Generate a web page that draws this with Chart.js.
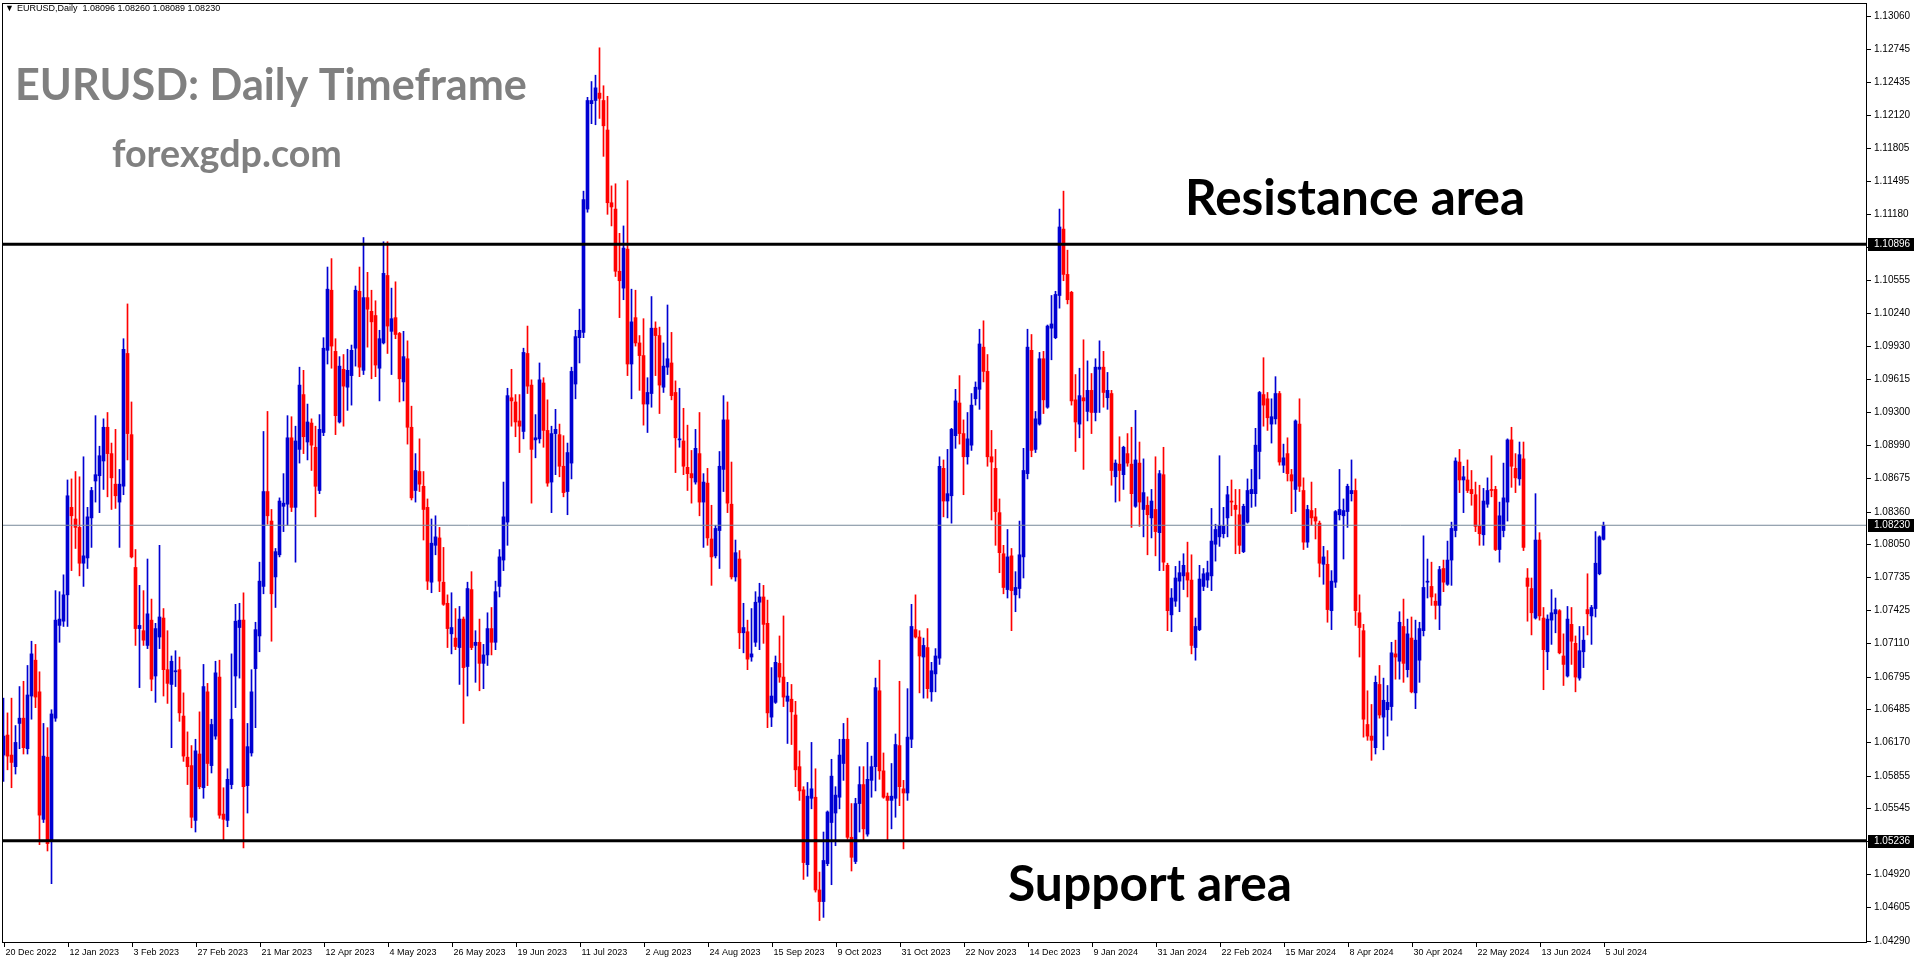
<!DOCTYPE html>
<html>
<head>
<meta charset="utf-8">
<script src="https://cdn.jsdelivr.net/npm/chart.js@4.4.1/dist/chart.umd.min.js"></script>
<style>
  html, body { margin: 0; padding: 0; background: #fff; overflow: hidden; }
  canvas { display: block; }
</style>
</head>
<body>
<canvas id="chart" width="1916" height="964"></canvas>
<script>
// EURUSD daily candles, 20 Dec 2022 .. 5 Jul 2024
const opens = [
  1.0605,1.0624,1.0605,1.0594,1.0635,1.0640,1.0611,1.0661,1.0695,1.0665,
  1.0544,1.0603,1.0524,1.0640,1.0728,1.0732,1.0757,1.0840,1.0829,1.0821,
  1.0787,1.0792,1.0830,1.0865,1.0870,1.0884,1.0916,1.0891,1.0862,1.0845,
  1.0860,1.0986,1.0909,1.0783,1.0725,1.0723,1.0709,1.0733,1.0680,1.0717,
  1.0735,1.0686,1.0672,1.0684,1.0686,1.0642,1.0603,1.0595,1.0543,1.0606,
  1.0574,1.0665,1.0595,1.0623,1.0679,1.0549,1.0543,1.0577,1.0680,1.0726,
  1.0733,1.0576,1.0607,1.0687,1.0718,1.0765,1.0855,1.0827,1.0774,1.0795,
  1.0841,1.0843,1.0906,1.0840,1.0895,1.0947,1.0902,1.0920,1.0897,1.0856,
  1.0911,1.0989,1.1046,1.0988,1.0921,1.0971,1.0954,1.0965,1.0991,1.1045,
  1.0970,1.1039,1.1026,1.1022,1.0972,1.0996,1.1060,1.1007,1.1020,1.1005,
  1.0959,1.0981,1.0916,1.0856,1.0874,1.0860,1.0840,1.0769,1.0804,1.0811,
  1.0769,1.0749,1.0720,1.0716,1.0707,1.0734,1.0689,1.0762,1.0709,1.0712,
  1.0692,1.0700,1.0725,1.0712,1.0765,1.0790,1.0826,1.0944,1.0940,1.0922,
  1.0912,1.0986,1.0956,1.0904,1.0905,1.0958,1.0913,1.0864,1.0910,1.0909,
  1.0879,1.0855,1.0882,1.0957,1.1001,1.1006,1.1123,1.1223,1.1226,1.1233,
  1.1226,1.1198,1.1129,1.1123,1.1064,1.1048,1.1085,1.0976,1.1020,1.0996,
  1.0984,1.0938,1.0948,1.1010,1.1003,1.0954,1.0973,1.0977,1.0949,1.0904,
  1.0903,1.0878,1.0872,1.0864,1.0891,1.0845,1.0863,1.0810,1.0794,1.0818,
  1.0876,1.0923,1.0843,1.0774,1.0791,1.0721,1.0722,1.0698,1.0712,1.0750,
  1.0755,1.0730,1.0641,1.0655,1.0692,1.0679,1.0656,1.0658,1.0643,1.0594,
  1.0572,1.0501,1.0564,1.0565,1.0477,1.0466,1.0502,1.0541,1.0550,1.0565,
  1.0597,1.0620,1.0527,1.0504,1.0559,1.0577,1.0530,1.0581,1.0594,1.0666,
  1.0590,1.0566,1.0562,1.0564,1.0614,1.0573,1.0569,1.0620,1.0724,1.0717,
  1.0698,1.0707,1.0665,1.0682,1.0697,1.0877,1.0846,1.0851,1.0908,1.0939,
  1.0910,1.0888,1.0899,1.0943,1.0952,1.0992,1.0969,1.0888,1.0877,1.0835,
  1.0796,1.0762,1.0794,1.0757,1.0763,1.0793,1.0872,1.0989,1.0895,1.0919,
  1.0981,1.0935,1.1010,1.1001,1.1041,1.1104,1.1061,1.1044,1.0942,1.0919,
  1.0944,1.0931,1.0951,1.0930,1.0971,1.0973,1.0944,1.0948,1.0869,1.0881,
  1.0871,1.0891,1.0881,1.0841,1.0882,1.0838,1.0842,1.0830,1.0838,1.0816,
  1.0871,1.0785,1.0738,1.0751,1.0770,1.0775,1.0778,1.0771,1.0707,1.0724,
  1.0765,1.0771,1.0775,1.0805,1.0812,1.0815,1.0830,1.0846,1.0842,1.0833,
  1.0798,1.0826,1.0853,1.0853,1.0893,1.0947,1.0943,1.0919,1.0924,1.0948,
  1.0880,1.0891,1.0871,1.0857,1.0919,1.0856,1.0807,1.0837,1.0831,1.0825,
  1.0786,1.0786,1.0742,1.0769,1.0833,1.0832,1.0836,1.0853,1.0856,1.0740,
  1.0723,1.0634,1.0623,1.0612,1.0672,1.0641,1.0648,1.0651,1.0701,1.0694,
  1.0727,1.0686,1.0716,1.0664,1.0695,1.0723,1.0769,1.0765,1.0751,1.0747,
  1.0782,1.0767,1.0790,1.0818,1.0883,1.0866,1.0866,1.0857,1.0852,1.0822,
  1.0814,1.0843,1.0857,1.0857,1.0800,1.0818,1.0845,1.0904,1.0877,1.0867,
  1.0886,1.0773,1.0763,1.0735,1.0809,1.0735,1.0703,1.0733,1.0739,1.0742,
  1.0699,1.0680,1.0729,1.0711,1.0678,1.0703,1.0743,1.0737,1.0744,1.0777,
  1.08096
];
const highs = [
  1.0659,1.0645,1.0659,1.0633,1.0670,1.0675,1.0690,1.0713,1.0710,1.0684,
  1.0635,1.0631,1.0648,1.0761,1.0760,1.0776,1.0866,1.0867,1.0874,1.0869,
  1.0888,1.0840,1.0859,1.0927,1.0898,1.0924,1.0930,1.0901,1.0914,1.0876,
  1.1000,1.1033,1.0940,1.0800,1.0766,1.0761,1.0791,1.0753,1.0730,1.0804,
  1.0744,1.0723,1.0699,1.0704,1.0698,1.0664,1.0627,1.0614,1.0620,1.0646,
  1.0691,1.0673,1.0639,1.0694,1.0695,1.0574,1.0592,1.0701,1.0748,1.0749,
  1.0759,1.0635,1.0686,1.0731,1.0788,1.0912,1.0931,1.0838,1.0801,1.0849,
  1.0872,1.0927,1.0926,1.0917,1.0973,1.0970,1.0938,1.0924,1.0917,1.0928,
  1.1001,1.1068,1.1076,1.1000,1.0983,1.0985,1.0990,1.0994,1.1050,1.1068,
  1.1096,1.1063,1.1046,1.1036,1.1008,1.1092,1.1092,1.1048,1.1054,1.1006,
  1.1007,1.0998,1.0936,1.0891,1.0905,1.0874,1.0848,1.0829,1.0832,1.0821,
  1.0802,1.0757,1.0759,1.0744,1.0746,1.0736,1.0769,1.0779,1.0723,1.0734,
  1.0710,1.0740,1.0745,1.0770,1.0800,1.0864,1.0953,1.0971,1.0947,1.0947,
  1.0991,1.1012,1.0961,1.0928,1.0977,1.0963,1.0942,1.0917,1.0933,1.0919,
  1.0908,1.0901,1.0973,1.1008,1.1028,1.1140,1.1229,1.1244,1.1250,1.1276,
  1.1240,1.1230,1.1145,1.1147,1.1100,1.1107,1.1150,1.1047,1.1046,1.1003,
  1.1019,1.0963,1.1040,1.1016,1.1011,1.0996,1.1032,1.1006,1.0960,1.0953,
  1.0934,1.0918,1.0894,1.0914,1.0930,1.0872,1.0877,1.0842,1.0823,1.0893,
  1.0946,1.0940,1.0883,1.0809,1.0799,1.0749,1.0733,1.0744,1.0760,1.0768,
  1.0766,1.0752,1.0688,1.0699,1.0718,1.0737,1.0674,1.0672,1.0656,1.0609,
  1.0575,1.0579,1.0617,1.0592,1.0494,1.0532,1.0552,1.0601,1.0575,1.0620,
  1.0635,1.0640,1.0559,1.0564,1.0594,1.0594,1.0617,1.0604,1.0678,1.0695,
  1.0607,1.0569,1.0597,1.0625,1.0675,1.0581,1.0668,1.0748,1.0757,1.0723,
  1.0716,1.0725,1.0693,1.0706,1.0888,1.0885,1.0895,1.0915,1.0952,1.0965,
  1.0923,1.0930,1.0948,1.0959,1.1009,1.1017,1.0985,1.0913,1.0895,1.0848,
  1.0804,1.0819,1.0801,1.0779,1.0827,1.0896,1.1009,1.1004,1.0931,1.0987,
  1.0988,1.1013,1.1041,1.1045,1.1123,1.1140,1.1084,1.1045,1.0966,1.0972,
  1.0999,1.0979,1.0967,1.0981,1.0998,1.0988,1.0968,1.0951,1.0885,1.0907,
  1.0898,1.0910,1.0916,1.0932,1.0902,1.0886,1.0850,1.0857,1.0888,1.0875,
  1.0897,1.0787,1.0763,1.0784,1.0789,1.0796,1.0807,1.0795,1.0735,1.0785,
  1.0782,1.0789,1.0839,1.0824,1.0889,1.0840,1.0860,1.0866,1.0857,1.0857,
  1.0843,1.0867,1.0876,1.0915,1.0950,1.0982,1.0949,1.0943,1.0964,1.0950,
  1.0900,1.0906,1.0876,1.0923,1.0943,1.0868,1.0842,1.0864,1.0839,1.0827,
  1.0803,1.0799,1.0780,1.0837,1.0876,1.0848,1.0862,1.0885,1.0867,1.0757,
  1.0729,1.0666,1.0653,1.0680,1.0690,1.0678,1.0671,1.0712,1.0714,1.0741,
  1.0753,1.0734,1.0736,1.0733,1.0731,1.0813,1.0791,1.0788,1.0758,1.0784,
  1.0790,1.0808,1.0826,1.0887,1.0895,1.0879,1.0885,1.0875,1.0864,1.0861,
  1.0858,1.0868,1.0889,1.0860,1.0845,1.0882,1.0905,1.0916,1.0891,1.0902,
  1.0902,1.0782,1.0773,1.0853,1.0816,1.0745,1.0738,1.0762,1.0754,1.0743,
  1.0720,1.0746,1.0745,1.0718,1.0727,1.0727,1.0777,1.0747,1.0817,1.0813,
  1.08260
];
const lows = [
  1.0580,1.0591,1.0574,1.0587,1.0611,1.0606,1.0606,1.0639,1.0650,1.0520,
  1.0541,1.0514,1.0483,1.0637,1.0712,1.0727,1.0727,1.0780,1.0801,1.0775,
  1.0765,1.0782,1.0802,1.0845,1.0835,1.0857,1.0850,1.0838,1.0839,1.0802,
  1.0852,1.0885,1.0792,1.0709,1.0669,1.0709,1.0706,1.0666,1.0655,1.0706,
  1.0661,1.0654,1.0612,1.0670,1.0637,1.0599,1.0577,1.0536,1.0532,1.0573,
  1.0564,1.0576,1.0588,1.0620,1.0545,1.0523,1.0537,1.0573,1.0650,1.0678,
  1.0517,1.0550,1.0604,1.0631,1.0703,1.0758,1.0824,1.0713,1.0745,1.0793,
  1.0817,1.0823,1.0836,1.0788,1.0882,1.0891,1.0885,1.0875,1.0831,1.0853,
  1.0908,1.0976,1.0972,1.0909,1.0920,1.0917,1.0932,1.0937,1.0974,1.0964,
  1.0966,1.0992,1.0962,1.0964,1.0941,1.0995,1.0986,1.0966,1.1000,1.0940,
  1.0941,1.0900,1.0847,1.0845,1.0855,1.0809,1.0762,1.0759,1.0795,1.0760,
  1.0747,1.0707,1.0701,1.0705,1.0672,1.0635,1.0661,1.0705,1.0674,1.0666,
  1.0668,1.0690,1.0700,1.0705,1.0755,1.0780,1.0804,1.0917,1.0907,1.0892,
  1.0905,1.0948,1.0844,1.0887,1.0901,1.0897,1.0860,1.0835,1.0871,1.0869,
  1.0850,1.0833,1.0867,1.0943,1.0977,1.1001,1.1120,1.1204,1.1203,1.1209,
  1.1173,1.1118,1.1107,1.1059,1.1020,1.1037,1.0965,1.0943,1.0993,1.0951,
  1.0918,1.0911,1.0935,1.0965,1.0929,1.0949,1.0966,1.0942,1.0873,1.0897,
  1.0871,1.0856,1.0844,1.0862,1.0832,1.0802,1.0804,1.0766,1.0792,1.0782,
  1.0855,1.0835,1.0772,1.0770,1.0706,1.0702,1.0686,1.0694,1.0708,1.0705,
  1.0711,1.0631,1.0632,1.0654,1.0674,1.0651,1.0616,1.0615,1.0575,1.0562,
  1.0487,1.0490,1.0554,1.0475,1.0448,1.0451,1.0500,1.0482,1.0519,1.0554,
  1.0581,1.0525,1.0495,1.0502,1.0532,1.0523,1.0528,1.0565,1.0571,1.0582,
  1.0564,1.0523,1.0535,1.0546,1.0557,1.0516,1.0562,1.0612,1.0716,1.0664,
  1.0659,1.0659,1.0656,1.0665,1.0691,1.0831,1.0830,1.0825,1.0896,1.0900,
  1.0852,1.0881,1.0894,1.0937,1.0933,1.0959,1.0879,1.0828,1.0804,1.0778,
  1.0758,1.0754,1.0723,1.0741,1.0754,1.0773,1.0867,1.0888,1.0892,1.0918,
  1.0929,1.0934,1.0980,1.1000,1.1029,1.1055,1.1033,1.0937,1.0893,1.0906,
  1.0876,1.0922,1.0910,1.0922,1.0930,1.0935,1.0933,1.0861,1.0845,1.0846,
  1.0857,1.0879,1.0821,1.0840,1.0822,1.0812,1.0795,1.0811,1.0794,1.0780,
  1.0780,1.0723,1.0722,1.0746,1.0741,1.0762,1.0755,1.0701,1.0695,1.0723,
  1.0761,1.0764,1.0761,1.0789,1.0803,1.0811,1.0812,1.0832,1.0796,1.0796,
  1.0797,1.0825,1.0840,1.0841,1.0867,1.0917,1.0913,1.0901,1.0919,1.0880,
  1.0873,1.0865,1.0834,1.0836,1.0855,1.0800,1.0802,1.0823,1.0810,1.0774,
  1.0767,1.0731,1.0724,1.0764,1.0828,1.0791,1.0821,1.0846,1.0728,1.0698,
  1.0622,1.0619,1.0600,1.0606,1.0640,1.0610,1.0623,1.0638,1.0677,1.0677,
  1.0674,1.0679,1.0664,1.0649,1.0674,1.0718,1.0754,1.0747,1.0734,1.0724,
  1.0760,1.0766,1.0766,1.0812,1.0854,1.0835,1.0854,1.0842,1.0817,1.0804,
  1.0804,1.0840,1.0850,1.0799,1.0788,1.0812,1.0827,1.0859,1.0854,1.0861,
  1.0799,1.0732,1.0719,1.0734,1.0733,1.0667,1.0686,1.0710,1.0721,1.0701,
  1.0671,1.0679,1.0691,1.0665,1.0676,1.0688,1.0719,1.0710,1.0736,1.0776,
  1.08089
];
const closes = [
  1.0623,1.0604,1.0598,1.0617,1.0640,1.0612,1.0662,1.0701,1.0660,1.0548,
  1.0604,1.0521,1.0644,1.0733,1.0734,1.0757,1.0851,1.0832,1.0821,1.0787,
  1.0794,1.0831,1.0856,1.0871,1.0889,1.0916,1.0891,1.0868,1.0851,1.0862,
  1.0990,1.0910,1.0793,1.0725,1.0728,1.0714,1.0739,1.0677,1.0725,1.0736,
  1.0686,1.0673,1.0694,1.0685,1.0645,1.0604,1.0594,1.0546,1.0609,1.0575,
  1.0670,1.0597,1.0634,1.0683,1.0548,1.0544,1.0582,1.0639,1.0732,1.0733,
  1.0575,1.0613,1.0665,1.0724,1.0770,1.0855,1.0832,1.0758,1.0798,1.0846,
  1.0844,1.0906,1.0840,1.0903,1.0956,1.0907,1.0921,1.0899,1.0860,1.0914,
  1.0991,1.1047,1.0993,1.0927,1.0974,1.0955,1.0970,1.0989,1.1046,1.0973,
  1.1039,1.1028,1.1016,1.0975,1.1000,1.1062,1.1012,1.1019,1.1004,1.0962,
  1.0983,1.0916,1.0849,1.0875,1.0862,1.0838,1.0770,1.0806,1.0812,1.0770,
  1.0748,1.0725,1.0726,1.0708,1.0734,1.0688,1.0763,1.0707,1.0712,1.0692,
  1.0700,1.0725,1.0712,1.0760,1.0793,1.0831,1.0946,1.0941,1.0921,1.0917,
  1.0987,1.0955,1.0895,1.0906,1.0961,1.0913,1.0863,1.0910,1.0914,1.0879,
  1.0854,1.0892,1.0969,1.1002,1.1008,1.1132,1.1226,1.1226,1.1238,1.1228,
  1.1202,1.1129,1.1125,1.1064,1.1055,1.1086,1.0976,1.1016,1.0996,1.0984,
  1.0938,1.0949,1.1010,1.1003,1.0956,1.0974,1.0981,1.0946,1.0906,1.0905,
  1.0879,1.0872,1.0868,1.0896,1.0845,1.0864,1.0811,1.0793,1.0820,1.0879,
  1.0923,1.0844,1.0774,1.0797,1.0721,1.0726,1.0696,1.0701,1.0750,1.0755,
  1.0729,1.0645,1.0661,1.0693,1.0679,1.0660,1.0661,1.0646,1.0591,1.0571,
  1.0503,1.0566,1.0573,1.0477,1.0466,1.0505,1.0551,1.0585,1.0567,1.0605,
  1.0620,1.0527,1.0508,1.0559,1.0577,1.0535,1.0582,1.0594,1.0669,1.0590,
  1.0565,1.0562,1.0566,1.0615,1.0575,1.0569,1.0622,1.0727,1.0717,1.0699,
  1.0709,1.0668,1.0685,1.0699,1.0879,1.0846,1.0853,1.0914,1.0941,1.0910,
  1.0888,1.0905,1.0937,1.0954,1.0995,1.0969,1.0888,1.0883,1.0836,1.0797,
  1.0764,1.0793,1.0761,1.0764,1.0795,1.0875,1.0992,1.0894,1.0924,1.0981,
  1.0942,1.1012,1.1014,1.1042,1.1106,1.1061,1.1037,1.0941,1.0921,1.0946,
  1.0941,1.0951,1.0930,1.0973,1.0973,1.0949,1.0951,1.0875,1.0882,1.0875,
  1.0897,1.0882,1.0853,1.0885,1.0845,1.0854,1.0833,1.0846,1.0817,1.0872,
  1.0788,1.0742,1.0754,1.0773,1.0778,1.0785,1.0771,1.0709,1.0727,1.0772,
  1.0777,1.0778,1.0808,1.0819,1.0823,1.0822,1.0852,1.0845,1.0838,1.0804,
  1.0841,1.0856,1.0857,1.0899,1.0949,1.0937,1.0925,1.0926,1.0948,1.0883,
  1.0887,1.0872,1.0865,1.0922,1.0860,1.0807,1.0838,1.0830,1.0827,1.0787,
  1.0793,1.0743,1.0770,1.0836,1.0838,1.0837,1.0860,1.0856,1.0742,1.0726,
  1.0639,1.0623,1.0619,1.0674,1.0643,1.0657,1.0655,1.0702,1.0698,1.0731,
  1.0692,1.0720,1.0665,1.0714,1.0725,1.0764,1.0770,1.0755,1.0747,1.0781,
  1.0769,1.0790,1.0820,1.0884,1.0866,1.0869,1.0856,1.0853,1.0822,1.0815,
  1.0846,1.0856,1.0856,1.0800,1.0832,1.0849,1.0904,1.0879,1.0868,1.0890,
  1.0802,1.0765,1.0740,1.0809,1.0737,1.0705,1.0734,1.0740,1.0743,1.0702,
  1.0691,1.0734,1.0713,1.0679,1.0704,1.0714,1.0739,1.0745,1.0787,1.0812,
  1.08230
];

// time axis labels and the bar each one sits on
const dateLabels = ['20 Dec 2022','12 Jan 2023','3 Feb 2023','27 Feb 2023','21 Mar 2023','12 Apr 2023',
  '4 May 2023','26 May 2023','19 Jun 2023','11 Jul 2023','2 Aug 2023','24 Aug 2023','15 Sep 2023',
  '9 Oct 2023','31 Oct 2023','22 Nov 2023','14 Dec 2023','9 Jan 2024','31 Jan 2024','22 Feb 2024',
  '15 Mar 2024','8 Apr 2024','30 Apr 2024','22 May 2024','13 Jun 2024','5 Jul 2024'];
const dateBars = [0,16,32,48,64,80,96,112,128,144,160,176,192,208,224,240,256,272,288,304,320,336,352,368,384,400];

// price axis
const priceTicks = [1.13060,1.12745,1.12435,1.12120,1.11805,1.11495,1.11180,1.10870,1.10555,1.10240,
  1.09930,1.09615,1.09300,1.08990,1.08675,1.08360,1.08050,1.07735,1.07425,1.07110,1.06795,1.06485,
  1.06170,1.05855,1.05545,1.05230,1.04920,1.04605,1.04290];
const resistanceLevel = 1.10896;
const supportLevel = 1.05236;
const lastPrice = closes[closes.length - 1];

const BULL = '#0000d2';
const BEAR = '#ff0000';
const X_MIN = -0.375, X_MAX = 465.875;

const colors = closes.map((c, i) => c >= opens[i] ? BULL : BEAR);
const wickData = closes.map((c, i) => ({ x: i, y: [lows[i], highs[i]] }));
const bodyData = closes.map((c, i) => ({ x: i, y: [Math.min(opens[i], c), Math.max(opens[i], c)] }));
const hLine = v => [{ x: X_MIN, y: v }, { x: X_MAX, y: v }];

function fitText(ctx, text, x, baseline, width, family, color) {
  ctx.font = 'bold 100px ' + family;
  const w = ctx.measureText(text).width;
  ctx.font = 'bold ' + (100 * width / w).toFixed(2) + 'px ' + family;
  ctx.fillStyle = color;
  ctx.textAlign = 'left';
  ctx.textBaseline = 'alphabetic';
  ctx.fillText(text, x, baseline);
}

const overlay = {
  id: 'overlay',
  afterDraw(chart) {
    const { ctx, chartArea: a, scales: { x, y } } = chart;
    ctx.save();

    // frame
    ctx.strokeStyle = '#000';
    ctx.lineWidth = 1;
    ctx.strokeRect(a.left + 0.5, a.top + 0.5, a.right - a.left - 1, a.bottom - a.top - 1);

    // price axis
    ctx.font = '10px "Liberation Sans", Arial, sans-serif';
    ctx.textAlign = 'left';
    ctx.textBaseline = 'middle';
    ctx.fillStyle = '#000';
    priceTicks.forEach(v => {
      const py = Math.round(y.getPixelForValue(v)) + 0.5;
      ctx.beginPath();
      ctx.moveTo(a.right, py);
      ctx.lineTo(a.right + 4, py);
      ctx.stroke();
      ctx.fillText(v.toFixed(5), a.right + 7, py);
    });
    [resistanceLevel, lastPrice, supportLevel].forEach(v => {
      const py = Math.round(y.getPixelForValue(v));
      ctx.fillStyle = '#000';
      ctx.fillRect(a.right + 1, py - 6, 46, 13);
      ctx.fillStyle = '#fff';
      ctx.fillText(v.toFixed(5), a.right + 7, py + 0.5);
    });

    // time axis
    ctx.fillStyle = '#000';
    ctx.font = '9px "Liberation Sans", Arial, sans-serif';
    ctx.textBaseline = 'top';
    dateBars.forEach((b, k) => {
      const px = Math.round(x.getPixelForValue(b)) + 0.5;
      ctx.beginPath();
      ctx.moveTo(px, a.bottom);
      ctx.lineTo(px, a.bottom + 4);
      ctx.stroke();
      ctx.fillText(dateLabels[k], px + 1, a.bottom + 5);
    });

    // header line
    ctx.font = '9px "Liberation Sans", Arial, sans-serif';
    ctx.textBaseline = 'middle';
    ctx.fillText('\u25BC', 5, 9);
    ctx.fillText('EURUSD,Daily  1.08096 1.08260 1.08089 1.08230', 17, 9);

    // captions
    fitText(ctx, 'EURUSD: Daily Timeframe', 15, 100, 512, 'Lato', '#808080');
    fitText(ctx, 'forexgdp.com', 112, 167, 230, 'Lato', '#808080');
    fitText(ctx, 'Resistance area', 1185, 215, 340, 'Lato', '#000');
    fitText(ctx, 'Support area', 1008, 901, 284, 'Lato', '#000');

    ctx.restore();
  }
};

new Chart(document.getElementById('chart'), {
  type: 'bar',
  data: {
    datasets: [
      { type: 'line', data: hLine(resistanceLevel), borderColor: '#000', borderWidth: 3, pointRadius: 0, order: 0 },
      { type: 'line', data: hLine(supportLevel), borderColor: '#000', borderWidth: 3, pointRadius: 0, order: 0 },
      { type: 'line', data: hLine(lastPrice), borderColor: '#778899', borderWidth: 1, pointRadius: 0, order: 0 },
      { data: bodyData, backgroundColor: colors, barThickness: 3, minBarLength: 1, grouped: false, borderWidth: 0, order: 1 },
      { data: wickData, backgroundColor: colors, barThickness: 1, grouped: false, borderWidth: 0, order: 2 }
    ]
  },
  options: {
    responsive: false,
    animation: false,
    devicePixelRatio: 1,
    layout: { padding: { left: 2, top: 3, right: 49, bottom: 21 } },
    plugins: { legend: { display: false }, tooltip: { enabled: false } },
    scales: {
      x: { type: 'linear', min: X_MIN, max: X_MAX, offset: false, display: false },
      y: { min: 1.04267, max: 1.13185, display: false }
    }
  },
  plugins: [overlay]
});
</script>
</body>
</html>
